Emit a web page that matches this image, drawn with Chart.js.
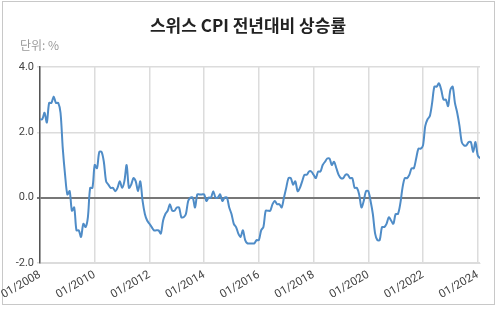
<!DOCTYPE html>
<html>
<head>
<meta charset="utf-8">
<script src="https://cdn.jsdelivr.net/npm/chart.js@4/dist/chart.umd.min.js"></script>
<style>
  body { margin:0; background:#fff; font-family:"Noto Sans CJK KR", Roboto, sans-serif; }
  #wrap { position:relative; width:500px; height:310px; overflow:hidden; }
  #frame { position:absolute; left:2px; top:1px; width:493px; height:304px; border:1px solid #c8c8c8; box-sizing:border-box; }
  #title { position:absolute; left:0; width:496px; top:12px; text-align:center; font-size:17px; font-weight:bold; color:#222; }
  #unit { position:absolute; left:20px; top:36px; font-size:12px; color:#999; }
  canvas { position:absolute; left:0; top:0; }
</style>
</head>
<body>
<div id="wrap">
  <div id="frame"></div>
  <canvas id="cpiChart" width="500" height="310"></canvas>
  <div id="title">스위스 CPI 전년대비 상승률</div>
  <div id="unit">단위: %</div>
</div>
<script>
// monthly YoY %, 01/2008 .. 02/2024
const y2008 = [2.4, 2.4, 2.6, 2.3, 2.9, 2.9, 3.1, 2.9, 2.9, 2.6, 1.5, 0.7];
const y2009 = [0.1, 0.2, -0.4, -0.3, -1.0, -1.0, -1.2, -0.8, -0.9, -0.6, 0.3, 0.3];
const y2010 = [1.0, 0.9, 1.4, 1.4, 1.1, 0.5, 0.4, 0.3, 0.3, 0.2, 0.3, 0.5];
const y2011 = [0.3, 0.5, 1.0, 0.3, 0.4, 0.6, 0.5, 0.2, 0.5, -0.1, -0.5, -0.7];
const y2012 = [-0.8, -0.9, -1.0, -1.0, -1.0, -1.1, -0.7, -0.5, -0.4, -0.2, -0.4, -0.4];
const y2013 = [-0.3, -0.3, -0.6, -0.6, -0.5, -0.1, 0.0, 0.0, -0.3, 0.1, 0.1, 0.1];
const y2014 = [0.1, -0.1, 0.0, 0.0, 0.2, 0.0, 0.0, 0.1, -0.1, 0.0, 0.0, -0.3];
const y2015 = [-0.5, -0.8, -0.9, -1.1, -1.2, -1.0, -1.3, -1.4, -1.4, -1.4, -1.4, -1.3];
const y2016 = [-1.3, -1.0, -0.9, -0.4, -0.4, -0.4, -0.2, -0.1, -0.2, -0.2, -0.3, 0.0];
const y2017 = [0.3, 0.6, 0.6, 0.4, 0.5, 0.2, 0.3, 0.5, 0.7, 0.7, 0.8, 0.8];
const y2018 = [0.7, 0.6, 0.8, 0.8, 1.0, 1.1, 1.2, 1.2, 1.0, 1.1, 0.9, 0.7];
const y2019 = [0.6, 0.6, 0.7, 0.7, 0.6, 0.6, 0.3, 0.3, 0.1, -0.3, -0.1, 0.2];
const y2020 = [0.2, -0.1, -0.5, -1.1, -1.3, -1.3, -0.9, -0.9, -0.8, -0.6, -0.7, -0.8];
const y2021 = [-0.5, -0.5, -0.2, 0.3, 0.6, 0.6, 0.7, 0.9, 0.9, 1.2, 1.5, 1.5];
const y2022 = [1.6, 2.2, 2.4, 2.5, 2.9, 3.4, 3.4, 3.5, 3.3, 3.0, 3.0, 2.8];
const y2023 = [3.3, 3.4, 2.9, 2.6, 2.2, 1.7, 1.6, 1.6, 1.7, 1.7, 1.4, 1.7];
const y2024 = [1.3, 1.2];

const cpi = [].concat(y2008, y2009, y2010, y2011, y2012, y2013, y2014, y2015,
  y2016, y2017, y2018, y2019, y2020, y2021, y2022, y2023, y2024);
const tickLabels = ["01/2008","01/2010","01/2012","01/2014","01/2016","01/2018","01/2020","01/2022","01/2024"];

const points = cpi.map((v, i) => ({ x: i, y: v }));

new Chart(document.getElementById("cpiChart"), {
  type: "line",
  data: { datasets: [{ data: points, borderColor: "#4f8cc7", borderWidth: 2, pointRadius: 0, tension: 0.3, fill: false }] },
  options: {
    responsive: false,
    animation: false,
    layout: { padding: { top: 67, right: 20, bottom: 5, left: 0 } },
    plugins: { legend: { display: false }, tooltip: { enabled: false } },
    scales: {
      x: {
        type: "linear", min: 0, max: 193,
        afterBuildTicks: s => { s.ticks = tickLabels.map((_, i) => ({ value: i * 24 })); },
        afterFit: s => { s.height = 42; s.paddingLeft = 0; s.paddingRight = 0; },
        ticks: {
          autoSkip: false, maxRotation: 30, minRotation: 30, padding: 5,
          color: "#444", font: { size: 11.5, family: "Roboto, Arial, sans-serif" },
          callback: (v) => tickLabels[Math.round(v / 24)]
        },
        grid: { color: "#dcdcdc", lineWidth: 1.5, drawTicks: false },
        border: { display: true, color: "#dcdcdc" }
      },
      y: {
        min: -2, max: 4,
        afterFit: s => { s.width = 40; },
        ticks: {
          stepSize: 2, padding: 3, color: "#444",
          font: { size: 11, family: "Roboto, Arial, sans-serif" },
          callback: v => v.toFixed(1)
        },
        grid: {
          drawTicks: true, tickLength: 3,
          color: c => c.tick && c.tick.value === 0 ? "#777" : "#dcdcdc",
          lineWidth: c => c.tick && c.tick.value === 0 ? 2 : 1.5
        },
        border: { display: true, color: "#555", width: 1.5 }
      }
    }
  }
});
</script>
</body>
</html>
